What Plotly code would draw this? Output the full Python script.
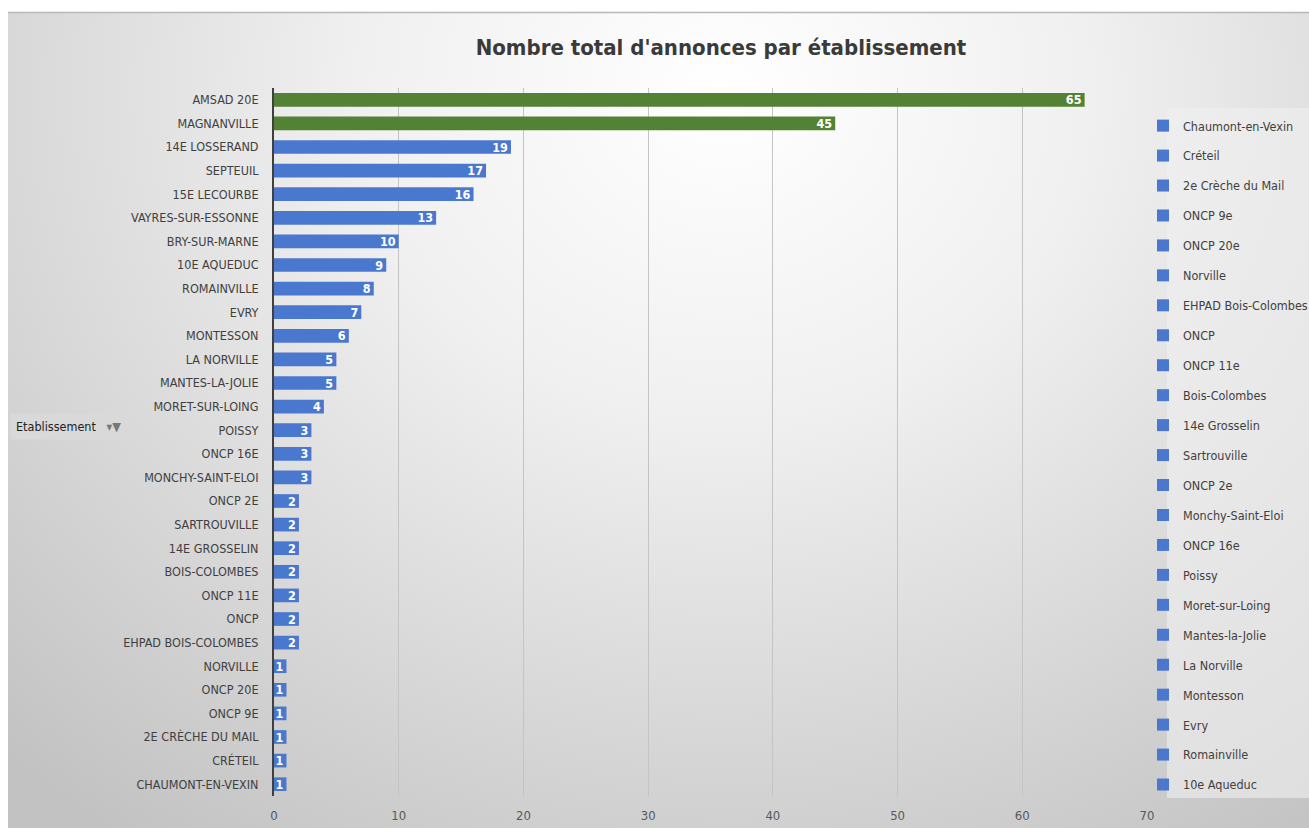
import base64
import plotly.graph_objects as go

# ---- data (top to bottom as displayed) ----
categories = [
    "AMSAD 20E", "MAGNANVILLE", "14E LOSSERAND", "SEPTEUIL", "15E LECOURBE",
    "VAYRES-SUR-ESSONNE", "BRY-SUR-MARNE", "10E AQUEDUC", "ROMAINVILLE", "EVRY",
    "MONTESSON", "LA NORVILLE", "MANTES-LA-JOLIE", "MORET-SUR-LOING", "POISSY",
    "ONCP 16E", "MONCHY-SAINT-ELOI", "ONCP 2E", "SARTROUVILLE", "14E GROSSELIN",
    "BOIS-COLOMBES", "ONCP 11E", "ONCP", "EHPAD BOIS-COLOMBES", "NORVILLE",
    "ONCP 20E", "ONCP 9E", "2E CRÈCHE DU MAIL", "CRÉTEIL", "CHAUMONT-EN-VEXIN",
]
values = [65, 45, 19, 17, 16, 13, 10, 9, 8, 7, 6, 5, 5, 4, 3, 3, 3,
          2, 2, 2, 2, 2, 2, 2, 1, 1, 1, 1, 1, 1]
legend_names = [
    "AMSAD 20e", "Magnanville", "14e Losserand", "Septeuil", "15e Lecourbe",
    "Vayres-sur-Essonne", "Bry-sur-Marne", "10e Aqueduc", "Romainville", "Evry",
    "Montesson", "La Norville", "Mantes-la-Jolie", "Moret-sur-Loing", "Poissy",
    "ONCP 16e", "Monchy-Saint-Eloi", "ONCP 2e", "Sartrouville", "14e Grosselin",
    "Bois-Colombes", "ONCP 11e", "ONCP", "EHPAD Bois-Colombes", "Norville",
    "ONCP 20e", "ONCP 9e", "2e Crèche du Mail", "Créteil", "Chaumont-en-Vexin",
]
highlighted = ["AMSAD 20E", "MAGNANVILLE"]
legend_hidden = ["AMSAD 20E", "MAGNANVILLE", "14E LOSSERAND", "SEPTEUIL",
                 "15E LECOURBE", "VAYRES-SUR-ESSONNE", "BRY-SUR-MARNE"]
x_ticks = [0, 10, 20, 30, 40, 50, 60, 70]

BLUE = "#4a78cf"
GREEN = "#548235"
FONT = "DejaVu Sans Condensed, Liberation Sans Narrow, Lato, sans-serif"

W, H = 1309, 828
L, R, T, B = 274, 162, 88, 32
PW, PH = W - L - R, H - T - B


def px_x(p):
    return (p - L) / PW


def px_y(p):
    return (H - B - p) / PH


fig = go.Figure()
order = list(range(len(categories)))[::-1]  # bottom first
for i in order:
    cat = categories[i]
    fig.add_trace(go.Bar(
        y=[cat], x=[values[i]], orientation="h",
        name=legend_names[i], legendgroup=legend_names[i],
        showlegend=cat not in legend_hidden,
        marker=dict(color=GREEN if cat in highlighted else BLUE, line=dict(width=0)),
        text=["<b>%d</b>" % values[i]], textposition="inside", insidetextanchor="end",
        textangle=0,
        textfont=dict(color="white", size=12.5, family=FONT),
        constraintext="none",
    ))

svg = (
    '<svg xmlns="http://www.w3.org/2000/svg" width="1301" height="816" '
    'viewBox="0 0 1301 816" preserveAspectRatio="none">'
    '<defs><radialGradient id="g" cx="0.55" cy="0.1" r="0.8" '
    'gradientTransform="translate(0.55 0.1) scale(1 1.4) translate(-0.55 -0.1)">'
    '<stop offset="0" stop-color="#ffffff"/>'
    '<stop offset="0.35" stop-color="#f0f0f0"/>'
    '<stop offset="1" stop-color="#c2c2c2"/>'
    '</radialGradient></defs>'
    '<rect width="1301" height="816" fill="url(#g)"/></svg>'
)
src = "data:image/svg+xml;base64," + base64.b64encode(svg.encode()).decode()

fig.add_layout_image(dict(
    source=src, xref="paper", yref="paper",
    x=px_x(8), y=px_y(12), sizex=1301 / PW, sizey=816 / PH,
    xanchor="left", yanchor="top", sizing="stretch", layer="below",
))

fig.add_shape(type="line", xref="paper", yref="paper",
              x0=px_x(8), x1=px_x(1309), y0=px_y(12.5), y1=px_y(12.5),
              line=dict(color="#b8b8b8", width=1.5))

# legend panel background
fig.add_shape(type="rect", xref="paper", yref="paper", layer="below",
              x0=px_x(1167), x1=px_x(1309), y0=px_y(108), y1=px_y(798),
              fillcolor="rgba(240,240,240,0.6)", line=dict(width=0))

fig.add_annotation(
    xref="paper", yref="paper", x=px_x(10), y=px_y(426),
    xanchor="left", yanchor="middle",
    text="Etablissement   <span style='color:#777'>▾▼</span>",
    showarrow=False, bgcolor="#d9d9d9", borderpad=5,
    font=dict(family=FONT, size=12.5, color="#222"),
)

fig.update_layout(
    width=W, height=H,
    margin=dict(l=L, r=R, t=T, b=B, autoexpand=False),
    paper_bgcolor="white", plot_bgcolor="rgba(0,0,0,0)",
    barmode="overlay", bargap=0.42,
    font=dict(family=FONT, color="#404040"),
    title=dict(text="<b>Nombre total d'annonces par établissement</b>",
               x=721 / W, xanchor="center", y=1 - 47 / H, yanchor="middle",
               yref="container",
               font=dict(family=FONT, size=22, color="#3a3a3a")),
    xaxis=dict(range=[0, 70], tickvals=x_ticks, showgrid=True,
               gridcolor="#c4c4c4", gridwidth=1, zeroline=False,
               showline=False, ticks="", ticklabelstandoff=10,
               tickfont=dict(size=13, color="#595959")),
    yaxis=dict(categoryorder="array", categoryarray=categories[::-1],
               range=[-0.5, len(categories) - 0.5],
               showline=True, linecolor="#404040", linewidth=2,
               ticks="", ticklabelstandoff=11,
               tickfont=dict(size=12.5, color="#404040")),
    legend=dict(x=px_x(1143), y=px_y(111), xanchor="left", yanchor="top",
                bgcolor="rgba(0,0,0,0)", borderwidth=0,
                traceorder="grouped", tracegroupgap=10.7, itemwidth=30,
                font=dict(family=FONT, size=12.5, color="#404040"),
                itemclick=False),
    showlegend=True,
)

fig.write_html("out.html")
